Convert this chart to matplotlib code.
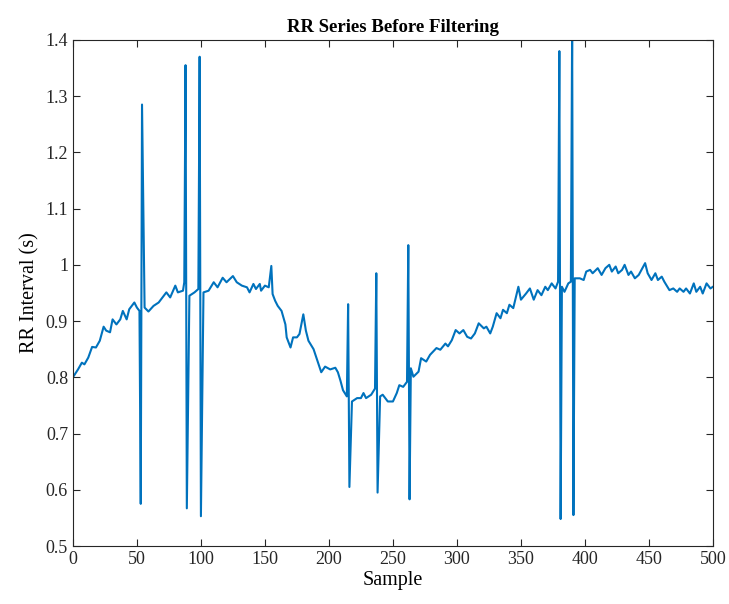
import numpy as np
import matplotlib
matplotlib.use("Agg")
import matplotlib.pyplot as plt

# samples (index, RR interval in s)
sample = [0, 4, 7, 9, 12, 15, 18, 21, 24, 26, 29, 31, 34, 37, 39, 42, 44, 48, 50,
          52, 53, 54, 56, 59, 63, 67, 69, 73, 76, 80, 82, 86, 87, 88, 89, 91,
          95, 98, 99, 100, 102, 106, 110, 113, 117, 120, 125, 128, 132, 136,
          138, 141, 143, 146, 147, 150, 153, 155, 156, 158, 160, 163, 166, 167,
          170, 172, 175, 177, 180, 182, 184, 188, 192, 194, 197, 201, 205, 207,
          209, 211, 214, 215, 216, 218, 222, 225, 227, 229, 233, 236, 237, 238,
          240, 242, 246, 250, 253, 255, 258, 261, 262, 263, 264, 266, 270, 272,
          276, 279, 284, 287, 291, 293, 296, 299, 302, 305, 308, 311, 314, 317,
          321, 323, 326, 328, 331, 334, 336, 339, 341, 344, 348, 350, 354, 357,
          360, 363, 366, 369, 371, 374, 377, 379, 380, 381, 382, 384, 387, 389,
          390, 391, 392, 396, 399, 401, 404, 406, 410, 413, 416, 419, 421, 424,
          426, 429, 431, 434, 436, 439, 442, 447, 449, 452, 455, 457, 460, 462,
          466, 469, 472, 474, 477, 479, 482, 485, 487, 490, 492, 495, 498, 500]
rr = [0.800, 0.814, 0.826, 0.823, 0.835, 0.854, 0.853, 0.865, 0.890, 0.883, 0.880,
      0.903, 0.894, 0.903, 0.918, 0.903, 0.921, 0.933, 0.924,
      0.918, 0.575, 1.285, 0.924, 0.917, 0.927, 0.933, 0.939, 0.951, 0.942,
      0.963, 0.951, 0.954, 0.969, 1.355, 0.567, 0.945,
      0.951, 0.957, 1.370, 0.553, 0.951, 0.954, 0.969, 0.960, 0.977, 0.969,
      0.980, 0.969, 0.963, 0.960,
      0.951, 0.966, 0.957, 0.966, 0.954, 0.963, 0.960, 0.998, 0.948, 0.936,
      0.927, 0.918, 0.894, 0.871,
      0.853, 0.871, 0.871, 0.877, 0.912, 0.883, 0.865, 0.850, 0.823, 0.809,
      0.819, 0.814, 0.817, 0.809,
      0.794, 0.777, 0.766, 0.930, 0.605, 0.757, 0.763, 0.763, 0.772, 0.763,
      0.769, 0.780, 0.985, 0.595,
      0.766, 0.769, 0.757, 0.757, 0.772, 0.786, 0.783, 0.792, 1.035, 0.583,
      0.816, 0.801, 0.810, 0.834,
      0.828, 0.840, 0.852, 0.849, 0.860, 0.855, 0.866, 0.884, 0.878, 0.884,
      0.872, 0.869, 0.878, 0.896,
      0.887, 0.890, 0.878, 0.890, 0.914, 0.905, 0.920, 0.914, 0.929, 0.923,
      0.961, 0.938, 0.949, 0.958,
      0.938, 0.955, 0.946, 0.961, 0.955, 0.967, 0.958, 0.970, 1.380, 0.548,
      0.961, 0.952, 0.967, 0.970,
      1.420, 0.555, 0.976, 0.976, 0.973, 0.988, 0.991, 0.985, 0.994, 0.982,
      0.994, 1.000, 0.988, 0.997,
      0.985, 0.991, 1.000, 0.982, 0.988, 0.976, 0.982, 1.003, 0.985, 0.973,
      0.985, 0.973, 0.979, 0.970,
      0.955, 0.958, 0.952, 0.958, 0.952, 0.958, 0.949, 0.967, 0.952, 0.961,
      0.949, 0.967, 0.958, 0.961]

plt.rcParams['font.family'] = ['Liberation Serif', 'DejaVu Serif']

fig = plt.figure(figsize=(7.29, 6.04), dpi=100)
ax = fig.add_axes([0.100, 0.096, 0.878, 0.838])
ax.plot(sample, rr, color='#0072BD', lw=1.5)

ax.set_xlim(0, 500)
ax.set_ylim(0.5, 1.4)
ax.set_xticks(np.arange(0, 501, 50))
ax.set_yticks(np.round(np.arange(0.5, 1.41, 0.1), 1))
ax.set_yticklabels(['0.5', '0.6', '0.7', '0.8', '0.9', '1', '1.1', '1.2', '1.3', '1.4'])
ax.tick_params(direction='in', top=True, right=True, length=5, width=0.8,
               labelsize=13, colors='#262626')
for s in ax.spines.values():
    s.set_linewidth(0.8)
    s.set_color('#262626')

ax.set_title('RR Series Before Filtering', fontsize=13.5, fontweight='bold', pad=6)
ax.set_xlabel('Sample', fontsize=14.5, labelpad=2)
ax.set_ylabel('RR Interval (s)', fontsize=14.5, labelpad=4)

fig.savefig('out.png', dpi=100)
